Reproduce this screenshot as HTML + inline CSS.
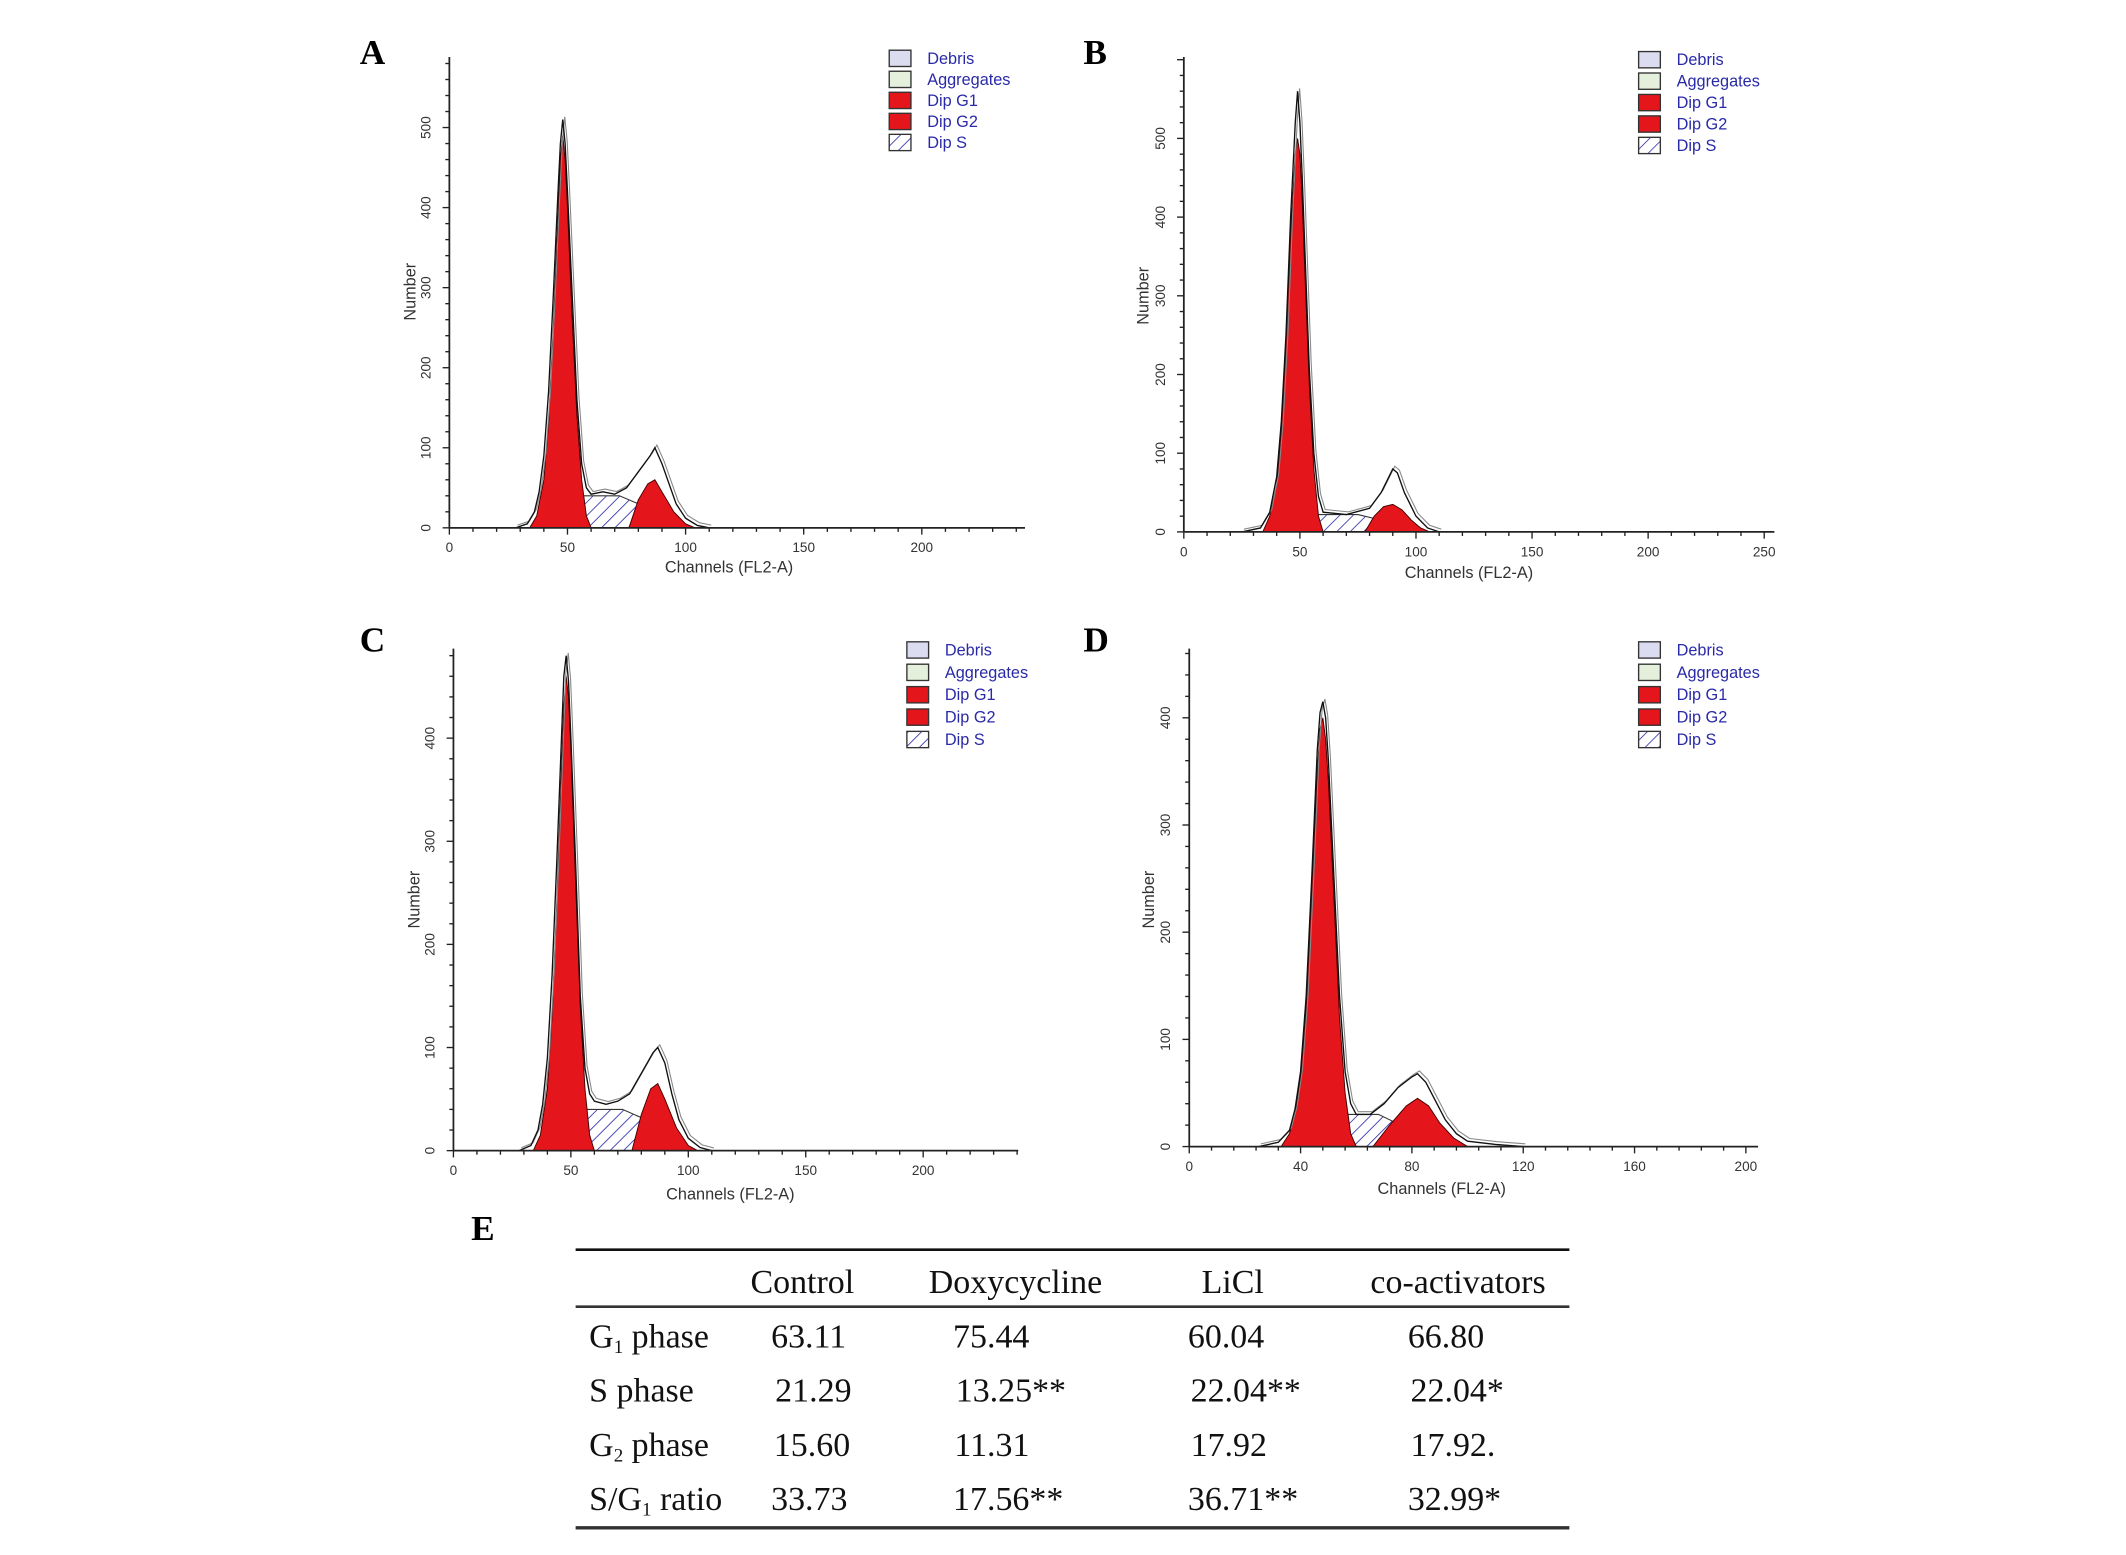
<!DOCTYPE html>
<html><head><meta charset="utf-8"><style>
html,body{margin:0;padding:0;background:#fff;width:2126px;height:1555px;overflow:hidden}
svg{display:block}
.tk{font-family:"Liberation Sans",sans-serif;font-size:10px;fill:#333}
.ttl{font-family:"Liberation Sans",sans-serif;font-size:12px;fill:#333}
.lg{font-family:"Liberation Sans",sans-serif;font-size:12px;fill:#2a2aa8}
.pl{font-family:"Liberation Serif",serif;font-size:26px;font-weight:bold;fill:#000}
.tb{font-family:"Liberation Serif",serif;font-size:25px;fill:#111}
</style></head><body>
<svg id="fig" width="2126" height="1555" viewBox="0 0 1566 1146" preserveAspectRatio="none" xmlns="http://www.w3.org/2000/svg">
<defs>
<pattern id="hatch" patternUnits="userSpaceOnUse" width="7" height="7" patternTransform="rotate(45)">
<rect width="7" height="7" fill="#fff"/><line x1="0" y1="0" x2="0" y2="7" stroke="#3a3ab0" stroke-width="1.3"/>
</pattern>
</defs>
<g id="panels"></g>
<g>
<text class="pl" x="347" y="914">E</text>
<line x1="424" y1="921" x2="1156" y2="921" stroke="#111" stroke-width="2"/>
<line x1="424" y1="963" x2="1156" y2="963" stroke="#333" stroke-width="2"/>
<line x1="424" y1="1126" x2="1156" y2="1126" stroke="#333" stroke-width="2.5"/>
<g class="tb" text-anchor="middle">
<text x="591" y="953">Control</text><text x="748" y="953">Doxycycline</text><text x="908" y="953">LiCl</text><text x="1074" y="953">co-activators</text>
</g>
<g class="tb">
<text x="434" y="993">G<tspan font-size="14" dy="4">1</tspan><tspan dy="-4"> phase</tspan></text>
<text x="434" y="1033">S phase</text>
<text x="434" y="1073">G<tspan font-size="14" dy="4">2</tspan><tspan dy="-4"> phase</tspan></text>
<text x="434" y="1113">S/G<tspan font-size="14" dy="4">1</tspan><tspan dy="-4"> ratio</tspan></text>
<text x="568" y="993">63.11</text><text x="702" y="993">75.44</text><text x="875" y="993">60.04</text><text x="1037" y="993">66.80</text>
<text x="571" y="1033">21.29</text><text x="704" y="1033">13.25**</text><text x="877" y="1033">22.04**</text><text x="1039" y="1033">22.04*</text>
<text x="570" y="1073">15.60</text><text x="703" y="1073">11.31</text><text x="877" y="1073">17.92</text><text x="1039" y="1073">17.92.</text>
<text x="568" y="1113">33.73</text><text x="702" y="1113">17.56**</text><text x="875" y="1113">36.71**</text><text x="1037" y="1113">32.99*</text>
</g>
</g>
</svg>
<script>
// Panel A data (channel, count)
const aTotalX=[28,33,36,38,40,42,44,46,47,48,49,50,52,54,56,58,60,65,70,75,80,85,87,90,93,96,100,105,110];
const aTotalY=[0,5,20,45,90,170,290,420,480,510,480,420,290,160,80,50,42,45,42,50,70,90,100,80,55,30,12,3,0];
const aG1X=[34,37,40,42,44,46,47,48,49,50,52,54,56,58,60];
const aG1Y=[0,15,60,130,250,390,460,490,460,400,260,140,60,15,0];
const aG2X=[76,80,84,87,90,95,100,104];
const aG2Y=[0,35,55,60,45,20,5,0];
const aSX=[42,50,55,72,80,88,95];
const aSY=[0,25,40,40,30,15,0];
// Panel B
const bTotalX=[25,33,37,40,42,44,46,48,49,50,51,52,54,56,58,60,70,80,85,90,92,95,100,105,110];
const bTotalY=[0,5,25,70,140,250,400,520,560,520,450,370,210,100,45,25,22,30,50,80,75,50,20,5,0];
const bG1X=[34,37,40,42,44,46,48,49,50,51,52,54,56,58,60];
const bG1Y=[0,20,60,130,240,380,480,500,480,420,340,190,80,20,0];
const bG2X=[78,82,86,90,94,98,102,106];
const bG2Y=[0,20,32,35,28,15,5,0];
const bSX=[42,50,56,75,85,92,100];
const bSY=[0,15,22,22,15,8,0];
// Panel C
const cTotalX=[28,33,36,38,40,42,44,46,47,48,49,50,52,54,56,58,60,65,70,75,80,85,87,90,93,96,100,105,110];
const cTotalY=[0,5,20,45,90,170,280,400,460,480,455,400,280,150,80,55,48,45,48,55,75,95,100,85,55,30,12,3,0];
const cG1X=[34,37,40,42,44,46,47,48,49,50,52,54,56,58,60];
const cG1Y=[0,15,60,130,240,370,430,460,440,390,260,140,60,15,0];
const cG2X=[76,80,84,87,90,95,100,104];
const cG2Y=[0,35,60,65,50,22,5,0];
const cSX=[42,50,55,72,80,88,95];
const cSY=[0,28,40,40,32,15,0];
// Panel D
const dTotalX=[25,32,36,38,40,42,44,46,47,48,49,50,52,54,56,58,60,65,70,75,80,82,85,88,92,96,100,110,120];
const dTotalY=[0,4,15,35,70,140,250,370,405,415,400,360,250,140,70,40,30,30,40,55,65,68,60,45,25,12,5,2,0];
const dG1X=[33,36,38,40,42,44,46,47,48,49,50,52,54,56,58,60];
const dG1Y=[0,12,30,65,130,240,350,390,400,380,340,230,120,50,12,0];
const dG2X=[66,72,78,82,86,90,95,100];
const dG2Y=[0,20,38,45,38,22,8,0];
const dSX=[40,48,54,68,76,85,92];
const dSY=[0,20,30,30,20,8,0];

const yTicksA=[0,100,200,300,400,500];
const yTicksD=[0,100,200,300,400];
const xTicks250=[0,50,100,150,200];
const xTicksB=[0,50,100,150,200,250];
const xTicksD=[0,40,80,120,160,200];
const legendNames=["Debris","Aggregates","Dip G1","Dip G2","Dip S"];

const NS="http://www.w3.org/2000/svg";
const root=document.getElementById('panels');
function mk(tag,attrs,parent){const e=document.createElementNS(NS,tag);for(const k in attrs)e.setAttribute(k,attrs[k]);(parent||root).appendChild(e);return e;}

const panels=[
 {id:'a',label:'A',lx:265,ly:47,x0:331,xEnd:755,yTop:42,y0:389,xPer:(505-331)/100,yPer:(389-330)/100,xMax:240,yMax:580,xT:xTicks250,xMinor:10,yT:yTicksA,yMinor:20,legX:655,legY:43,legDy:15.5,title:[537,422],num:[306,215],
  tx:aTotalX,ty:aTotalY,g1x:aG1X,g1y:aG1Y,g2x:aG2X,g2y:aG2Y,sx:aSX,sy:aSY},
 {id:'b',label:'B',lx:798,ly:47,x0:872,xEnd:1307,yTop:42,y0:392,xPer:(1043-872)/100,yPer:(392-334)/100,xMax:252,yMax:590,xT:xTicksB,xMinor:10,yT:yTicksA,yMinor:20,legX:1207,legY:44,legDy:15.8,title:[1082,426],num:[846,218],
  tx:bTotalX,ty:bTotalY,g1x:bG1X,g1y:bG1Y,g2x:bG2X,g2y:bG2Y,sx:bSX,sy:bSY},
 {id:'c',label:'C',lx:265,ly:480,x0:334,xEnd:750,yTop:478,y0:848,xPer:(507-334)/100,yPer:(848-772)/100,xMax:240,yMax:490,xT:xTicks250,xMinor:10,yT:yTicksD,yMinor:20,legX:668,legY:479,legDy:16.5,title:[538,884],num:[309,663],
  tx:cTotalX,ty:cTotalY,g1x:cG1X,g1y:cG1Y,g2x:cG2X,g2y:cG2Y,sx:cSX,sy:cSY},
 {id:'d',label:'D',lx:798,ly:480,x0:876,xEnd:1295,yTop:478,y0:845,xPer:(1040-876)/80,yPer:(845-766)/100,xMax:204,yMax:470,xT:xTicksD,xMinor:8,yT:yTicksD,yMinor:20,legX:1207,legY:479,legDy:16.5,title:[1062,880],num:[850,663],
  tx:dTotalX,ty:dTotalY,g1x:dG1X,g1y:dG1Y,g2x:dG2X,g2y:dG2Y,sx:dSX,sy:dSY}
];

panels.forEach(p=>{
 const g=mk('g',{});
 
 
 const X=v=>p.x0+v*p.xPer, Y=v=>p.y0-v*p.yPer;
 const lab=mk('text',{class:'pl',x:p.lx,y:p.ly},g);lab.textContent=p.label;
 
 
 const area=(xs,ys)=>{let d='M'+X(xs[0])+','+p.y0;xs.forEach((x,i)=>d+=' L'+X(x)+','+Y(ys[i]));return d+' L'+X(xs[xs.length-1])+','+p.y0+' Z';};
 const line=(xs,ys,dx)=>{let d='';xs.forEach((x,i)=>d+=(i?' L':'M')+(X(x)+dx)+','+(Y(ys[i])-(dx?2:0)));return d;};
 const s=mk('path',{d:area(p.sx,p.sy),fill:'url(#hatch)',stroke:'#333','stroke-width':0.8},g);
 
 
 const g1=mk('path',{d:area(p.g1x,p.g1y),fill:'#e4161c',stroke:'#400','stroke-width':0.7},g);
 
 
 const g2=mk('path',{d:area(p.g2x,p.g2y),fill:'#e4161c',stroke:'#400','stroke-width':0.7},g);
 
 
 const t2=mk('path',{d:line(p.tx,p.ty,1.5),fill:'none',stroke:'#888','stroke-width':0.8},g);
 
 
 const t=mk('path',{d:line(p.tx,p.ty,0),fill:'none',stroke:'#111','stroke-width':1},g);
 
 
 const ax=mk('g',{},g);
 
 
 mk('line',{x1:p.x0,y1:p.yTop,x2:p.x0,y2:p.y0,stroke:'#222','stroke-width':1.3},ax);
 mk('line',{x1:p.x0,y1:p.y0,x2:p.xEnd,y2:p.y0,stroke:'#222','stroke-width':1.3},ax);
 for(let v=0;X(v)<=p.xEnd+0.5;v+=p.xMinor) mk('line',{x1:X(v),y1:p.y0,x2:X(v),y2:p.y0+(v%(p.xMinor*5)===0?5:3),stroke:'#222','stroke-width':1},ax);
 for(let v=0;Y(v)>=p.yTop;v+=p.yMinor) mk('line',{x1:p.x0,y1:Y(v),x2:p.x0-(v%100===0?5:3),y2:Y(v),stroke:'#222','stroke-width':1},ax);
 p.xT.forEach(v=>{const e=mk('text',{class:'tk',x:X(v),y:p.y0+18,'text-anchor':'middle'},ax);e.textContent=v;});
 p.yT.forEach(v=>{const e=mk('text',{class:'tk',x:p.x0-14,y:Y(v),'text-anchor':'middle',transform:'rotate(-90 '+(p.x0-14)+' '+Y(v)+')'},ax);e.textContent=v;});
 const xt=mk('text',{class:'ttl',x:p.title[0],y:p.title[1],'text-anchor':'middle'},ax);xt.textContent='Channels (FL2-A)';
 
 
 const yt=mk('text',{class:'ttl',x:p.num[0],y:p.num[1],'text-anchor':'middle',transform:'rotate(-90 '+p.num[0]+' '+p.num[1]+')'},ax);yt.textContent='Number';
 
 
 const fills=['#dcdcf0','#e4f0dc','#e4161c','#e4161c','url(#hatch)'];
 legendNames.forEach((n,i)=>{
  const le=mk('g',{},g);
  
  
  const y=p.legY+i*p.legDy;
  mk('rect',{x:p.legX,y:y-6,width:16,height:12,fill:fills[i],stroke:'#333','stroke-width':1},le);
  const tx=mk('text',{class:'lg',x:p.legX+28,y:y+4},le);tx.textContent=n;
 });
});
</script>
</body></html>
